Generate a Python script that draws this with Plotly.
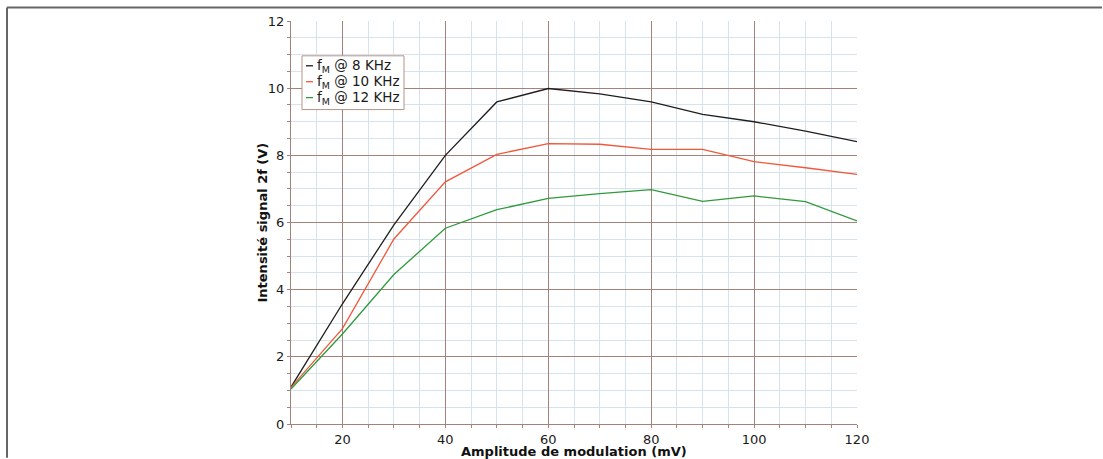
import plotly.graph_objects as go

# Modulation amplitude (mV)
amplitude = [10, 20, 30, 40, 50, 60, 70, 80, 90, 100, 110, 120]

# 2f signal intensity (V) for each modulation frequency
signal_8khz = [1.10, 3.58, 5.93, 8.00, 9.59, 9.99, 9.83, 9.59, 9.22, 9.00, 8.72, 8.41]
signal_10khz = [1.09, 2.84, 5.51, 7.21, 8.03, 8.35, 8.33, 8.18, 8.18, 7.81, 7.63, 7.43]
signal_12khz = [1.04, 2.68, 4.45, 5.83, 6.38, 6.72, 6.86, 6.98, 6.63, 6.79, 6.62, 6.05]

series_names = ["f<sub>M</sub> @ 8 KHz", "f<sub>M</sub> @ 10 KHz", "f<sub>M</sub> @ 12 KHz"]
series_values = [signal_8khz, signal_10khz, signal_12khz]
series_colors = ["#1e1e1e", "#f0583c", "#2e9a3c"]

x_title = "Amplitude de modulation (mV)"
y_title = "Intensité signal 2f (V)"

FONT = "DejaVu Sans"
MAJOR_GRID = "#a4827a"
MINOR_GRID = "#d6e3ec"

W, H = 1103, 459
L, R, T, B = 291, 246, 21, 33
PW, PH = W - L - R, H - T - B


def px_x(px):
    return (px - L) / PW


def px_y(py):
    return (H - B - py) / PH


fig = go.Figure()
for name, vals, col in zip(series_names, series_values, series_colors):
    fig.add_trace(go.Scatter(x=amplitude, y=vals, mode="lines", name=name,
                             line=dict(color=col, width=1.3), showlegend=False))

axis_common = dict(
    showline=True, linecolor=MAJOR_GRID, linewidth=1,
    ticks="outside", ticklen=3, tickcolor=MAJOR_GRID,
    showgrid=True, gridcolor=MAJOR_GRID, gridwidth=1,
    zeroline=False,
    tickfont=dict(family=FONT, size=13, color="#1a1a1a"),
)

fig.update_xaxes(range=[10, 120], tick0=0, dtick=20,
                 minor=dict(dtick=5, ticks="outside", ticklen=3, tickcolor=MAJOR_GRID,
                            showgrid=True, gridcolor=MINOR_GRID, gridwidth=1),
                 **axis_common)
fig.update_yaxes(range=[0, 12], tick0=0, dtick=2,
                 minor=dict(dtick=0.5, ticks="outside", ticklen=3, tickcolor=MAJOR_GRID,
                            showgrid=True, gridcolor=MINOR_GRID, gridwidth=1),
                 **axis_common)

annotations = [
    dict(text=f"<b>{x_title}</b>", xref="paper", yref="paper", x=0.5, y=px_y(454),
         showarrow=False, xanchor="center", yanchor="middle",
         font=dict(family=FONT, size=13, color="#111")),
    dict(text=f"<b>{y_title}</b>", xref="paper", yref="paper", x=px_x(262), y=0.5,
         showarrow=False, xanchor="center", yanchor="middle", textangle=-90,
         font=dict(family=FONT, size=13, color="#111")),
]

shapes = [
    # outer frame (top and left edges)
    dict(type="line", xref="paper", yref="paper", x0=px_x(7), x1=px_x(1102),
         y0=px_y(7.5), y1=px_y(7.5), line=dict(color="#666", width=2)),
    dict(type="line", xref="paper", yref="paper", x0=px_x(7), x1=px_x(7),
         y0=px_y(7.5), y1=px_y(460), line=dict(color="#666", width=2)),
    # legend box
    dict(type="rect", xref="paper", yref="paper", x0=px_x(302), x1=px_x(404),
         y0=px_y(56), y1=px_y(110), line=dict(color="#b49488", width=1),
         fillcolor="white", layer="above"),
]

row_y = [66, 82, 98]
for name, col, ry in zip(series_names, series_colors, row_y):
    shapes.append(dict(type="line", xref="paper", yref="paper",
                       x0=px_x(306), x1=px_x(313), y0=px_y(ry), y1=px_y(ry),
                       line=dict(color=col, width=1.3), layer="above"))
    annotations.append(dict(text=name, xref="paper", yref="paper",
                            x=px_x(315), y=px_y(ry), showarrow=False,
                            xanchor="left", yanchor="middle",
                            font=dict(family=FONT, size=13.5, color="#1a1a1a")))

fig.update_layout(
    width=W, height=H,
    margin=dict(l=L, r=R, t=T, b=B),
    paper_bgcolor="white", plot_bgcolor="white",
    annotations=annotations, shapes=shapes,
    showlegend=False,
)

fig.write_html("out.html")
